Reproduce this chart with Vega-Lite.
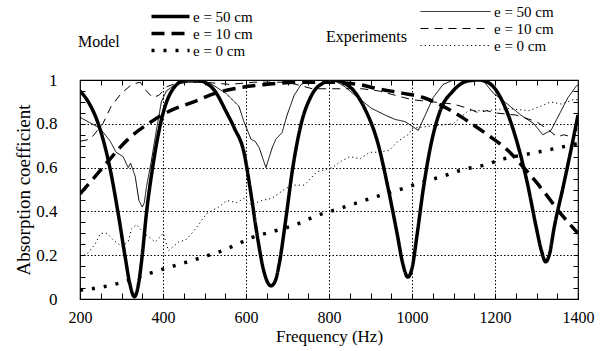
{
  "$schema": "https://vega.github.io/schema/vega-lite/v6.json",
  "width": 498,
  "height": 219,
  "autosize": "none",
  "padding": {"left": 80, "top": 80, "right": 22, "bottom": 52},
  "background": "white",
  "config": {
    "font": "Liberation Serif, Times New Roman, serif",
    "view": {"stroke": "black", "strokeWidth": 1.2},
    "axis": {"labelFont": "Liberation Serif, Times New Roman, serif", "titleFont": "Liberation Serif, Times New Roman, serif", "labelColor": "black", "titleColor": "black", "titleFontWeight": "normal", "domain": false, "tickColor": "black", "labelFlush": false},
    "legend": {"labelFont": "Liberation Serif, Times New Roman, serif", "titleFont": "Liberation Serif, Times New Roman, serif", "labelColor": "black", "titleColor": "black", "titleFontWeight": "normal"}
  },
  "datasets": {
    "model": [
      {"f": 200, "v": 0.95, "e": "e = 50 cm"}, {"f": 220, "v": 0.9, "e": "e = 50 cm"}, {"f": 244, "v": 0.8, "e": "e = 50 cm"}, {"f": 273, "v": 0.59, "e": "e = 50 cm"}, {"f": 292, "v": 0.39, "e": "e = 50 cm"}, {"f": 309, "v": 0.19, "e": "e = 50 cm"}, {"f": 320, "v": 0.07, "e": "e = 50 cm"}, {"f": 331, "v": 0.01, "e": "e = 50 cm"}, {"f": 342, "v": 0.08, "e": "e = 50 cm"}, {"f": 350, "v": 0.2, "e": "e = 50 cm"}, {"f": 360, "v": 0.39, "e": "e = 50 cm"}, {"f": 375, "v": 0.6, "e": "e = 50 cm"}, {"f": 394, "v": 0.8, "e": "e = 50 cm"}, {"f": 421, "v": 0.95, "e": "e = 50 cm"}, {"f": 455, "v": 1.0, "e": "e = 50 cm"}, {"f": 480, "v": 1.0, "e": "e = 50 cm"}, {"f": 500, "v": 0.99, "e": "e = 50 cm"}, {"f": 525, "v": 0.95, "e": "e = 50 cm"}, {"f": 551, "v": 0.86, "e": "e = 50 cm"}, {"f": 572, "v": 0.78, "e": "e = 50 cm"}, {"f": 595, "v": 0.67, "e": "e = 50 cm"}, {"f": 612, "v": 0.48, "e": "e = 50 cm"}, {"f": 627, "v": 0.29, "e": "e = 50 cm"}, {"f": 644, "v": 0.12, "e": "e = 50 cm"}, {"f": 660, "v": 0.06, "e": "e = 50 cm"}, {"f": 670, "v": 0.08, "e": "e = 50 cm"}, {"f": 680, "v": 0.16, "e": "e = 50 cm"}, {"f": 697, "v": 0.38, "e": "e = 50 cm"}, {"f": 712, "v": 0.59, "e": "e = 50 cm"}, {"f": 733, "v": 0.8, "e": "e = 50 cm"}, {"f": 758, "v": 0.93, "e": "e = 50 cm"}, {"f": 790, "v": 0.99, "e": "e = 50 cm"}, {"f": 810, "v": 1.0, "e": "e = 50 cm"}, {"f": 832, "v": 0.99, "e": "e = 50 cm"}, {"f": 860, "v": 0.95, "e": "e = 50 cm"}, {"f": 886, "v": 0.87, "e": "e = 50 cm"}, {"f": 918, "v": 0.71, "e": "e = 50 cm"}, {"f": 942, "v": 0.51, "e": "e = 50 cm"}, {"f": 964, "v": 0.3, "e": "e = 50 cm"}, {"f": 978, "v": 0.16, "e": "e = 50 cm"}, {"f": 990, "v": 0.1, "e": "e = 50 cm"}, {"f": 1000, "v": 0.14, "e": "e = 50 cm"}, {"f": 1012, "v": 0.29, "e": "e = 50 cm"}, {"f": 1027, "v": 0.5, "e": "e = 50 cm"}, {"f": 1044, "v": 0.69, "e": "e = 50 cm"}, {"f": 1068, "v": 0.86, "e": "e = 50 cm"}, {"f": 1099, "v": 0.95, "e": "e = 50 cm"}, {"f": 1133, "v": 0.995, "e": "e = 50 cm"}, {"f": 1160, "v": 1.0, "e": "e = 50 cm"}, {"f": 1182, "v": 0.99, "e": "e = 50 cm"}, {"f": 1200, "v": 0.96, "e": "e = 50 cm"}, {"f": 1221, "v": 0.89, "e": "e = 50 cm"}, {"f": 1254, "v": 0.71, "e": "e = 50 cm"}, {"f": 1279, "v": 0.52, "e": "e = 50 cm"}, {"f": 1298, "v": 0.34, "e": "e = 50 cm"}, {"f": 1312, "v": 0.22, "e": "e = 50 cm"}, {"f": 1322, "v": 0.17, "e": "e = 50 cm"}, {"f": 1332, "v": 0.21, "e": "e = 50 cm"}, {"f": 1342, "v": 0.32, "e": "e = 50 cm"}, {"f": 1364, "v": 0.51, "e": "e = 50 cm"}, {"f": 1383, "v": 0.68, "e": "e = 50 cm"}, {"f": 1400, "v": 0.84, "e": "e = 50 cm"},
      {"f": 200, "v": 0.48, "e": "e = 10 cm"}, {"f": 232, "v": 0.55, "e": "e = 10 cm"}, {"f": 268, "v": 0.63, "e": "e = 10 cm"}, {"f": 316, "v": 0.73, "e": "e = 10 cm"}, {"f": 372, "v": 0.81, "e": "e = 10 cm"}, {"f": 418, "v": 0.86, "e": "e = 10 cm"}, {"f": 474, "v": 0.9, "e": "e = 10 cm"}, {"f": 527, "v": 0.94, "e": "e = 10 cm"}, {"f": 571, "v": 0.96, "e": "e = 10 cm"}, {"f": 650, "v": 0.98, "e": "e = 10 cm"}, {"f": 728, "v": 0.99, "e": "e = 10 cm"}, {"f": 800, "v": 0.99, "e": "e = 10 cm"}, {"f": 870, "v": 0.98, "e": "e = 10 cm"}, {"f": 918, "v": 0.96, "e": "e = 10 cm"}, {"f": 976, "v": 0.94, "e": "e = 10 cm"}, {"f": 1027, "v": 0.92, "e": "e = 10 cm"}, {"f": 1085, "v": 0.87, "e": "e = 10 cm"}, {"f": 1136, "v": 0.81, "e": "e = 10 cm"}, {"f": 1182, "v": 0.75, "e": "e = 10 cm"}, {"f": 1230, "v": 0.68, "e": "e = 10 cm"}, {"f": 1274, "v": 0.59, "e": "e = 10 cm"}, {"f": 1318, "v": 0.49, "e": "e = 10 cm"}, {"f": 1354, "v": 0.4, "e": "e = 10 cm"}, {"f": 1400, "v": 0.3, "e": "e = 10 cm"},
      {"f": 200, "v": 0.04, "e": "e = 0 cm"}, {"f": 239, "v": 0.05, "e": "e = 0 cm"}, {"f": 290, "v": 0.07, "e": "e = 0 cm"}, {"f": 340, "v": 0.1, "e": "e = 0 cm"}, {"f": 389, "v": 0.13, "e": "e = 0 cm"}, {"f": 442, "v": 0.16, "e": "e = 0 cm"}, {"f": 494, "v": 0.19, "e": "e = 0 cm"}, {"f": 542, "v": 0.22, "e": "e = 0 cm"}, {"f": 590, "v": 0.26, "e": "e = 0 cm"}, {"f": 614, "v": 0.28, "e": "e = 0 cm"}, {"f": 668, "v": 0.31, "e": "e = 0 cm"}, {"f": 721, "v": 0.34, "e": "e = 0 cm"}, {"f": 770, "v": 0.38, "e": "e = 0 cm"}, {"f": 820, "v": 0.41, "e": "e = 0 cm"}, {"f": 869, "v": 0.44, "e": "e = 0 cm"}, {"f": 918, "v": 0.47, "e": "e = 0 cm"}, {"f": 971, "v": 0.5, "e": "e = 0 cm"}, {"f": 1019, "v": 0.53, "e": "e = 0 cm"}, {"f": 1073, "v": 0.56, "e": "e = 0 cm"}, {"f": 1121, "v": 0.59, "e": "e = 0 cm"}, {"f": 1172, "v": 0.61, "e": "e = 0 cm"}, {"f": 1221, "v": 0.64, "e": "e = 0 cm"}, {"f": 1274, "v": 0.66, "e": "e = 0 cm"}, {"f": 1327, "v": 0.68, "e": "e = 0 cm"}, {"f": 1376, "v": 0.7, "e": "e = 0 cm"}, {"f": 1400, "v": 0.71, "e": "e = 0 cm"}
    ],
    "exp": [
      {"f": 200, "v": 0.83, "e": "e = 50 cm"}, {"f": 219, "v": 0.81, "e": "e = 50 cm"}, {"f": 248, "v": 0.78, "e": "e = 50 cm"}, {"f": 273, "v": 0.72, "e": "e = 50 cm"}, {"f": 287, "v": 0.67, "e": "e = 50 cm"}, {"f": 304, "v": 0.65, "e": "e = 50 cm"}, {"f": 316, "v": 0.6, "e": "e = 50 cm"}, {"f": 322, "v": 0.62, "e": "e = 50 cm"}, {"f": 333, "v": 0.56, "e": "e = 50 cm"}, {"f": 342, "v": 0.45, "e": "e = 50 cm"}, {"f": 350, "v": 0.42, "e": "e = 50 cm"}, {"f": 355, "v": 0.44, "e": "e = 50 cm"}, {"f": 360, "v": 0.51, "e": "e = 50 cm"}, {"f": 372, "v": 0.63, "e": "e = 50 cm"}, {"f": 384, "v": 0.77, "e": "e = 50 cm"}, {"f": 396, "v": 0.9, "e": "e = 50 cm"}, {"f": 408, "v": 0.95, "e": "e = 50 cm"}, {"f": 430, "v": 0.98, "e": "e = 50 cm"}, {"f": 460, "v": 0.99, "e": "e = 50 cm"}, {"f": 500, "v": 0.99, "e": "e = 50 cm"}, {"f": 518, "v": 0.98, "e": "e = 50 cm"}, {"f": 551, "v": 0.94, "e": "e = 50 cm"}, {"f": 583, "v": 0.88, "e": "e = 50 cm"}, {"f": 595, "v": 0.81, "e": "e = 50 cm"}, {"f": 612, "v": 0.73, "e": "e = 50 cm"}, {"f": 622, "v": 0.72, "e": "e = 50 cm"}, {"f": 632, "v": 0.69, "e": "e = 50 cm"}, {"f": 648, "v": 0.6, "e": "e = 50 cm"}, {"f": 663, "v": 0.69, "e": "e = 50 cm"}, {"f": 672, "v": 0.73, "e": "e = 50 cm"}, {"f": 687, "v": 0.76, "e": "e = 50 cm"}, {"f": 699, "v": 0.84, "e": "e = 50 cm"}, {"f": 716, "v": 0.93, "e": "e = 50 cm"}, {"f": 733, "v": 0.98, "e": "e = 50 cm"}, {"f": 760, "v": 1.0, "e": "e = 50 cm"}, {"f": 810, "v": 1.0, "e": "e = 50 cm"}, {"f": 838, "v": 0.97, "e": "e = 50 cm"}, {"f": 869, "v": 0.92, "e": "e = 50 cm"}, {"f": 903, "v": 0.87, "e": "e = 50 cm"}, {"f": 935, "v": 0.84, "e": "e = 50 cm"}, {"f": 959, "v": 0.82, "e": "e = 50 cm"}, {"f": 983, "v": 0.81, "e": "e = 50 cm"}, {"f": 1000, "v": 0.79, "e": "e = 50 cm"}, {"f": 1015, "v": 0.77, "e": "e = 50 cm"}, {"f": 1032, "v": 0.84, "e": "e = 50 cm"}, {"f": 1051, "v": 0.92, "e": "e = 50 cm"}, {"f": 1075, "v": 0.98, "e": "e = 50 cm"}, {"f": 1100, "v": 1.0, "e": "e = 50 cm"}, {"f": 1170, "v": 1.0, "e": "e = 50 cm"}, {"f": 1196, "v": 0.94, "e": "e = 50 cm"}, {"f": 1230, "v": 0.89, "e": "e = 50 cm"}, {"f": 1262, "v": 0.84, "e": "e = 50 cm"}, {"f": 1294, "v": 0.8, "e": "e = 50 cm"}, {"f": 1315, "v": 0.75, "e": "e = 50 cm"}, {"f": 1335, "v": 0.77, "e": "e = 50 cm"}, {"f": 1354, "v": 0.84, "e": "e = 50 cm"}, {"f": 1376, "v": 0.92, "e": "e = 50 cm"}, {"f": 1395, "v": 0.97, "e": "e = 50 cm"}, {"f": 1400, "v": 0.98, "e": "e = 50 cm"},
      {"f": 200, "v": 0.72, "e": "e = 10 cm"}, {"f": 225, "v": 0.73, "e": "e = 10 cm"}, {"f": 255, "v": 0.8, "e": "e = 10 cm"}, {"f": 275, "v": 0.88, "e": "e = 10 cm"}, {"f": 300, "v": 0.94, "e": "e = 10 cm"}, {"f": 325, "v": 0.98, "e": "e = 10 cm"}, {"f": 345, "v": 0.99, "e": "e = 10 cm"}, {"f": 360, "v": 0.95, "e": "e = 10 cm"}, {"f": 375, "v": 0.92, "e": "e = 10 cm"}, {"f": 390, "v": 0.93, "e": "e = 10 cm"}, {"f": 410, "v": 0.97, "e": "e = 10 cm"}, {"f": 440, "v": 0.99, "e": "e = 10 cm"}, {"f": 500, "v": 0.99, "e": "e = 10 cm"}, {"f": 560, "v": 0.98, "e": "e = 10 cm"}, {"f": 620, "v": 0.99, "e": "e = 10 cm"}, {"f": 700, "v": 0.99, "e": "e = 10 cm"}, {"f": 760, "v": 0.96, "e": "e = 10 cm"}, {"f": 830, "v": 0.96, "e": "e = 10 cm"}, {"f": 880, "v": 0.96, "e": "e = 10 cm"}, {"f": 920, "v": 0.95, "e": "e = 10 cm"}, {"f": 960, "v": 0.93, "e": "e = 10 cm"}, {"f": 1000, "v": 0.91, "e": "e = 10 cm"}, {"f": 1050, "v": 0.9, "e": "e = 10 cm"}, {"f": 1100, "v": 0.89, "e": "e = 10 cm"}, {"f": 1136, "v": 0.87, "e": "e = 10 cm"}, {"f": 1160, "v": 0.85, "e": "e = 10 cm"}, {"f": 1180, "v": 0.86, "e": "e = 10 cm"}, {"f": 1200, "v": 0.85, "e": "e = 10 cm"}, {"f": 1250, "v": 0.84, "e": "e = 10 cm"}, {"f": 1300, "v": 0.81, "e": "e = 10 cm"}, {"f": 1330, "v": 0.77, "e": "e = 10 cm"}, {"f": 1350, "v": 0.74, "e": "e = 10 cm"}, {"f": 1365, "v": 0.75, "e": "e = 10 cm"}, {"f": 1385, "v": 0.74, "e": "e = 10 cm"}, {"f": 1400, "v": 0.78, "e": "e = 10 cm"},
      {"f": 200, "v": 0.19, "e": "e = 0 cm"}, {"f": 219, "v": 0.21, "e": "e = 0 cm"}, {"f": 236, "v": 0.25, "e": "e = 0 cm"}, {"f": 250, "v": 0.3, "e": "e = 0 cm"}, {"f": 265, "v": 0.3, "e": "e = 0 cm"}, {"f": 280, "v": 0.27, "e": "e = 0 cm"}, {"f": 300, "v": 0.24, "e": "e = 0 cm"}, {"f": 316, "v": 0.26, "e": "e = 0 cm"}, {"f": 324, "v": 0.32, "e": "e = 0 cm"}, {"f": 336, "v": 0.34, "e": "e = 0 cm"}, {"f": 355, "v": 0.3, "e": "e = 0 cm"}, {"f": 381, "v": 0.26, "e": "e = 0 cm"}, {"f": 401, "v": 0.3, "e": "e = 0 cm"}, {"f": 413, "v": 0.22, "e": "e = 0 cm"}, {"f": 437, "v": 0.26, "e": "e = 0 cm"}, {"f": 455, "v": 0.27, "e": "e = 0 cm"}, {"f": 474, "v": 0.31, "e": "e = 0 cm"}, {"f": 486, "v": 0.34, "e": "e = 0 cm"}, {"f": 505, "v": 0.39, "e": "e = 0 cm"}, {"f": 534, "v": 0.42, "e": "e = 0 cm"}, {"f": 554, "v": 0.45, "e": "e = 0 cm"}, {"f": 578, "v": 0.44, "e": "e = 0 cm"}, {"f": 595, "v": 0.46, "e": "e = 0 cm"}, {"f": 612, "v": 0.43, "e": "e = 0 cm"}, {"f": 639, "v": 0.45, "e": "e = 0 cm"}, {"f": 663, "v": 0.46, "e": "e = 0 cm"}, {"f": 692, "v": 0.5, "e": "e = 0 cm"}, {"f": 712, "v": 0.52, "e": "e = 0 cm"}, {"f": 741, "v": 0.52, "e": "e = 0 cm"}, {"f": 770, "v": 0.58, "e": "e = 0 cm"}, {"f": 808, "v": 0.6, "e": "e = 0 cm"}, {"f": 830, "v": 0.63, "e": "e = 0 cm"}, {"f": 850, "v": 0.65, "e": "e = 0 cm"}, {"f": 875, "v": 0.64, "e": "e = 0 cm"}, {"f": 898, "v": 0.67, "e": "e = 0 cm"}, {"f": 922, "v": 0.67, "e": "e = 0 cm"}, {"f": 946, "v": 0.68, "e": "e = 0 cm"}, {"f": 966, "v": 0.72, "e": "e = 0 cm"}, {"f": 990, "v": 0.75, "e": "e = 0 cm"}, {"f": 1002, "v": 0.78, "e": "e = 0 cm"}, {"f": 1048, "v": 0.79, "e": "e = 0 cm"}, {"f": 1099, "v": 0.8, "e": "e = 0 cm"}, {"f": 1136, "v": 0.86, "e": "e = 0 cm"}, {"f": 1180, "v": 0.86, "e": "e = 0 cm"}, {"f": 1230, "v": 0.87, "e": "e = 0 cm"}, {"f": 1281, "v": 0.86, "e": "e = 0 cm"}, {"f": 1310, "v": 0.88, "e": "e = 0 cm"}, {"f": 1334, "v": 0.9, "e": "e = 0 cm"}, {"f": 1360, "v": 0.89, "e": "e = 0 cm"}, {"f": 1388, "v": 0.91, "e": "e = 0 cm"}, {"f": 1400, "v": 0.91, "e": "e = 0 cm"}
    ]
  },
  "layer": [
    {
      "data": {"name": "model"},
      "mark": {"type": "line", "color": "black", "strokeWidth": 3.5, "interpolate": "monotone", "clip": true},
      "encoding": {
        "x": {"field": "f", "type": "quantitative", "title": "Frequency (Hz)",
          "scale": {"domain": [200, 1400], "nice": false, "zero": false, "padding": 0},
          "axis": {"orient": "bottom", "values": [200,250,300,350,400,450,500,550,600,650,700,750,800,850,900,950,1000,1050,1100,1150,1200,1250,1300,1350,1400],
            "labelExpr": "datum.value % 200 === 0 ? format(datum.value, 'd') : ''",
            "tickSize": -6, "labelPadding": 16, "labelFontSize": 16, "titleFontSize": 17, "titlePadding": 3,
            "grid": true, "gridColor": "black", "gridDash": [1.5, 2], "gridWidth": 1,
            "gridOpacity": {"condition": {"test": "datum.value % 200 === 0 && datum.value > 200 && datum.value < 1400", "value": 1}, "value": 0}}},
        "y": {"field": "v", "type": "quantitative", "title": "Absorption coefficient",
          "scale": {"domain": [0, 1], "nice": false, "padding": 0},
          "axis": {"orient": "left", "values": [0,0.05,0.1,0.15,0.2,0.25,0.3,0.35,0.4,0.45,0.5,0.55,0.6,0.65,0.7,0.75,0.8,0.85,0.9,0.95,1],
            "labelExpr": "abs(datum.value*5 - round(datum.value*5)) < 0.001 ? format(datum.value, '~g') : ''",
            "tickSize": -5, "labelPadding": 28, "labelFontSize": 17, "titleFontSize": 19, "titlePadding": 2,
            "grid": true, "gridColor": "black", "gridDash": [1.5, 2], "gridWidth": 1,
            "gridOpacity": {"condition": {"test": "abs(datum.value*5 - round(datum.value*5)) < 0.001 && datum.value > 0.01 && datum.value < 0.99", "value": 1}, "value": 0}}},
        "strokeDash": {"field": "e", "type": "nominal",
          "scale": {"domain": ["e = 50 cm", "e = 10 cm", "e = 0 cm"], "range": [[1, 0], [13, 7], [3, 9]]},
          "legend": {"title": "Model", "orient": "none", "legendX": -2, "legendY": -71, "titleOrient": "left", "titleAnchor": "middle", "titleBaseline": "top", "titleFontSize": 16, "titlePadding": 28,
            "symbolType": "M-1,0H8.5", "symbolSize": 64, "symbolStrokeWidth": 3.5, "symbolStrokeColor": "black", "symbolFillColor": "transparent", "labelFontSize": 15, "labelOffset": 30, "rowPadding": 1}}
      }
    },
    {
      "data": {"name": "exp"},
      "mark": {"type": "line", "color": "black", "strokeWidth": 1, "interpolate": "linear", "clip": true},
      "encoding": {
        "x": {"field": "f", "type": "quantitative",
          "scale": {"domain": [200, 1400], "nice": false, "zero": false, "padding": 0},
          "axis": {"orient": "top", "values": [250,300,350,400,450,500,550,600,650,700,750,800,850,900,950,1000,1050,1100,1150,1200,1250,1300,1350], "labels": false, "title": null, "tickSize": -5, "grid": false}},
        "y": {"field": "v", "type": "quantitative",
          "scale": {"domain": [0, 1], "nice": false, "padding": 0},
          "axis": {"orient": "right", "values": [0.05,0.1,0.15,0.2,0.25,0.3,0.35,0.4,0.45,0.5,0.55,0.6,0.65,0.7,0.75,0.8,0.85,0.9,0.95], "labels": false, "title": null, "tickSize": -5, "grid": false}},
        "strokeDash": {"field": "e", "type": "nominal",
          "scale": {"domain": ["e = 50 cm", "e = 10 cm", "e = 0 cm"], "range": [[1, 0], [8, 6], [1.2, 3]]},
          "legend": {"title": "Experiments", "orient": "none", "legendX": 246, "legendY": -76, "titleOrient": "left", "titleAnchor": "middle", "titleBaseline": "top", "titleFontSize": 16, "titlePadding": 10,
            "symbolType": "M-1,0H16.5", "symbolSize": 64, "symbolStrokeWidth": 1, "symbolStrokeColor": "black", "symbolFillColor": "transparent", "labelFontSize": 15, "labelOffset": 62, "rowPadding": 1}}
      }
    }
  ],
  "resolve": {"scale": {"strokeDash": "independent"}, "axis": {"x": "independent", "y": "independent"}}
}
